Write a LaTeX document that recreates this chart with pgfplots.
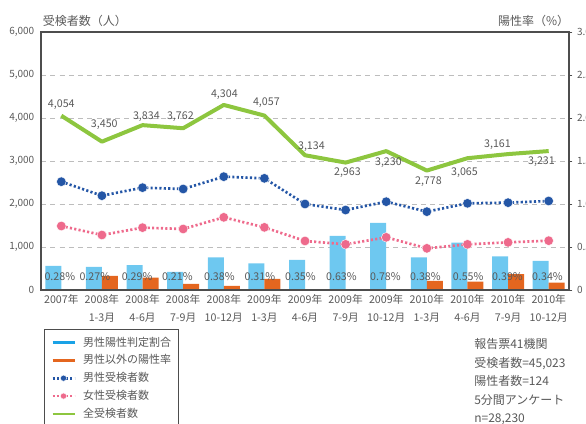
\documentclass[border=0pt]{standalone}
\usepackage{fontspec}
\setmainfont{Noto Sans CJK JP}
\usepackage{pgfplots}
\pgfplotsset{compat=1.18}
\definecolor{sky}{HTML}{6EC8F0}
\definecolor{skyleg}{HTML}{1AA2E6}
\definecolor{org}{HTML}{E4661F}
\definecolor{mblue}{HTML}{2456A6}
\definecolor{fpink}{HTML}{EE6A8C}
\definecolor{tgreen}{HTML}{8DC63F}
\definecolor{tgray}{HTML}{595959}
\definecolor{agray}{HTML}{4D4D4D}
\definecolor{ggray}{HTML}{BDBDBD}
\begin{document}
\begin{tikzpicture}
\path[use as bounding box] (0pt,0pt) rectangle (439.5pt,-318pt);
% ---------- right axis: percentages (bars) ----------
\begin{axis}[
  at={(30.75pt,-217.5pt)}, anchor=south west,
  scale only axis, width=396pt, height=193.5pt,
  xmin=-0.5, xmax=12.5, ymin=0, ymax=3,
  axis x line=none, axis y line*=right,
  axis line style={agray, line width=1.1pt},
  ytick={0,0.5,1,1.5,2,2.5,3},
  yticklabels={0,0.5,1.0,1.5,2.0,2.5,3.0},
  tick align=outside, major tick length=2.5pt,
  ytick style={agray, line width=0.6pt},
  yticklabel style={font=\fontsize{7.5}{9}\selectfont, text=tgray, xshift=0pt},
  ymajorgrids, grid style={ggray, line width=0.7pt, dash pattern=on 3.75pt off 3.2pt},
  /pgf/number format/assume math mode=true,
]
\addplot[ybar, bar width=12pt, bar shift=-6pt, fill=sky, draw=none] coordinates
 {(0,0.28)(1,0.27)(2,0.29)(3,0.21)(4,0.38)(5,0.31)(6,0.35)(7,0.63)(8,0.78)(9,0.38)(10,0.55)(11,0.39)(12,0.34)};
\addplot[ybar, bar width=12pt, bar shift=6pt, fill=org, draw=none] coordinates
 {(1,0.163)(2,0.143)(3,0.07)(4,0.047)(5,0.128)(9,0.105)(10,0.097)(11,0.186)(12,0.085)};
\end{axis}
% ---------- left axis: counts (lines) ----------
\begin{axis}[
  at={(30.75pt,-217.5pt)}, anchor=south west,
  scale only axis, width=396pt, height=193.5pt,
  xmin=-0.5, xmax=12.5, ymin=0, ymax=6000,
  axis line style={agray, line width=1.3pt},
  ytick={0,1000,2000,3000,4000,5000,6000},
  yticklabels={0,{1,000},{2,000},{3,000},{4,000},{5,000},{6,000}},
  ytick pos=left, xtick pos=bottom,
  major tick length=0pt,
  yticklabel style={font=\fontsize{7.5}{9}\selectfont, text=tgray, xshift=-1.5pt},
  xtick={0,...,12},
  xticklabels={2007年,{2008年\\[1.2pt]1-3月},{2008年\\[1.2pt]4-6月},{2008年\\[1.2pt]7-9月},{2008年\\[1.2pt]10-12月},{2009年\\[1.2pt]1-3月},{2009年\\[1.2pt]4-6月},{2009年\\[1.2pt]7-9月},{2009年\\[1.2pt]10-12月},{2010年\\[1.2pt]1-3月},{2010年\\[1.2pt]4-6月},{2010年\\[1.2pt]7-9月},{2010年\\[1.2pt]10-12月}},
  xticklabel style={align=center, font=\fontsize{8}{12.5}\selectfont, text=tgray, inner sep=1pt, yshift=-2pt},
  /pgf/number format/assume math mode=true,
  legend image code/.code={\draw[mark repeat=2,mark phase=2,#1,mark size=2.3pt] plot coordinates {(0pt,0pt)(8.25pt,0pt)(16.5pt,0pt)};},
  legend style={at={(rel axis cs:0.0057,-0.151)}, anchor=north west, draw=agray, line width=0.75pt, fill=white,
    font=\fontsize{8.25}{9}\selectfont, text=tgray, inner xsep=5pt, inner ysep=5pt, row sep=3.9pt, column sep=5pt,
    nodes={inner sep=0.5pt, text height=7pt, text depth=1.5pt}},
  legend cell align=left,
]
\addlegendimage{skyleg, line width=2pt}
\addlegendentry{男性陽性判定割合}
\addlegendimage{org, line width=2pt}
\addlegendentry{男性以外の陽性率}
\addplot[tgreen, line width=3pt, line join=round, forget plot] coordinates
 {(0,4054)(1,3450)(2,3834)(3,3762)(4,4304)(5,4057)(6,3134)(7,2963)(8,3230)(9,2778)(10,3065)(11,3161)(12,3231)};
\addplot[mblue, line width=2pt, dash pattern=on 1.6pt off 1.7pt, mark=*, mark size=3.6pt, mark options={solid, fill=mblue, draw=white, line width=0.3pt}] coordinates
 {(0,2519)(1,2193)(2,2380)(3,2349)(4,2636)(5,2597)(6,2000)(7,1860)(8,2054)(9,1822)(10,2016)(11,2031)(12,2070)};
\addlegendentry{男性受検者数}
\addplot[fpink, line width=2pt, dash pattern=on 1.6pt off 1.7pt, mark=*, mark size=3.6pt, mark options={solid, fill=fpink, draw=white, line width=0.3pt}] coordinates
 {(0,1488)(1,1279)(2,1450)(3,1419)(4,1690)(5,1457)(6,1140)(7,1062)(8,1225)(9,969)(10,1062)(11,1108)(12,1147)};
\addlegendentry{女性受検者数}
\addlegendimage{tgreen, line width=2pt}
\addlegendentry{全受検者数}
% green-line value labels
\begin{scope}[every node/.style={font=\fontsize{8}{9.6}\selectfont, text=tgray, inner sep=0pt}]
\node at (axis cs:0,4302) {4,054};
\node at (axis cs:1.059,3837) {3,450};
\node at (axis cs:2.094,4023) {3,834};
\node at (axis cs:2.931,4023) {3,762};
\node at (axis cs:4.015,4535) {4,304};
\node at (axis cs:5.049,4349) {4,057};
\node at (axis cs:6.158,3326) {3,134};
\node at (axis cs:7.044,2721) {2,963};
\node at (axis cs:8.054,2953) {3,230};
\node at (axis cs:9.039,2512) {2,778};
\node at (axis cs:9.926,2721) {3,065};
\node at (axis cs:10.739,3372) {3,161};
\node at (axis cs:11.823,2977) {3,231};
% percent labels
\node at (axis cs:-0.037,302) {0.28\%};
\node at (axis cs:0.825,302) {0.27\%};
\node at (axis cs:1.865,302) {0.29\%};
\node at (axis cs:2.857,302) {0.21\%};
\node at (axis cs:3.892,302) {0.38\%};
\node at (axis cs:4.889,302) {0.31\%};
\node at (axis cs:5.887,302) {0.35\%};
\node at (axis cs:6.897,302) {0.63\%};
\node at (axis cs:7.980,302) {0.78\%};
\node at (axis cs:8.966,302) {0.38\%};
\node at (axis cs:10.017,302) {0.55\%};
\node at (axis cs:10.985,302) {0.39\%};
\node at (axis cs:11.970,302) {0.34\%};
\end{scope}
\end{axis}
% titles
\node[anchor=west, inner sep=0pt, font=\fontsize{9}{11}\selectfont, text=tgray] at (32pt,-15.75pt) {受検者数（人）};
\node[anchor=east, inner sep=0pt, font=\fontsize{9}{11}\selectfont, text=tgray] at (427pt,-15.75pt) {陽性率（\%）};
% notes
\node[anchor=north west, align=left, inner sep=0pt, font=\fontsize{9}{13.9}\selectfont, text=tgray] at (355.5pt,-253.8pt)
 {報告票41機関\\受検者数=45,023\\陽性者数=124\\5分間アンケート\\n=28,230};
\end{tikzpicture}
\end{document}
